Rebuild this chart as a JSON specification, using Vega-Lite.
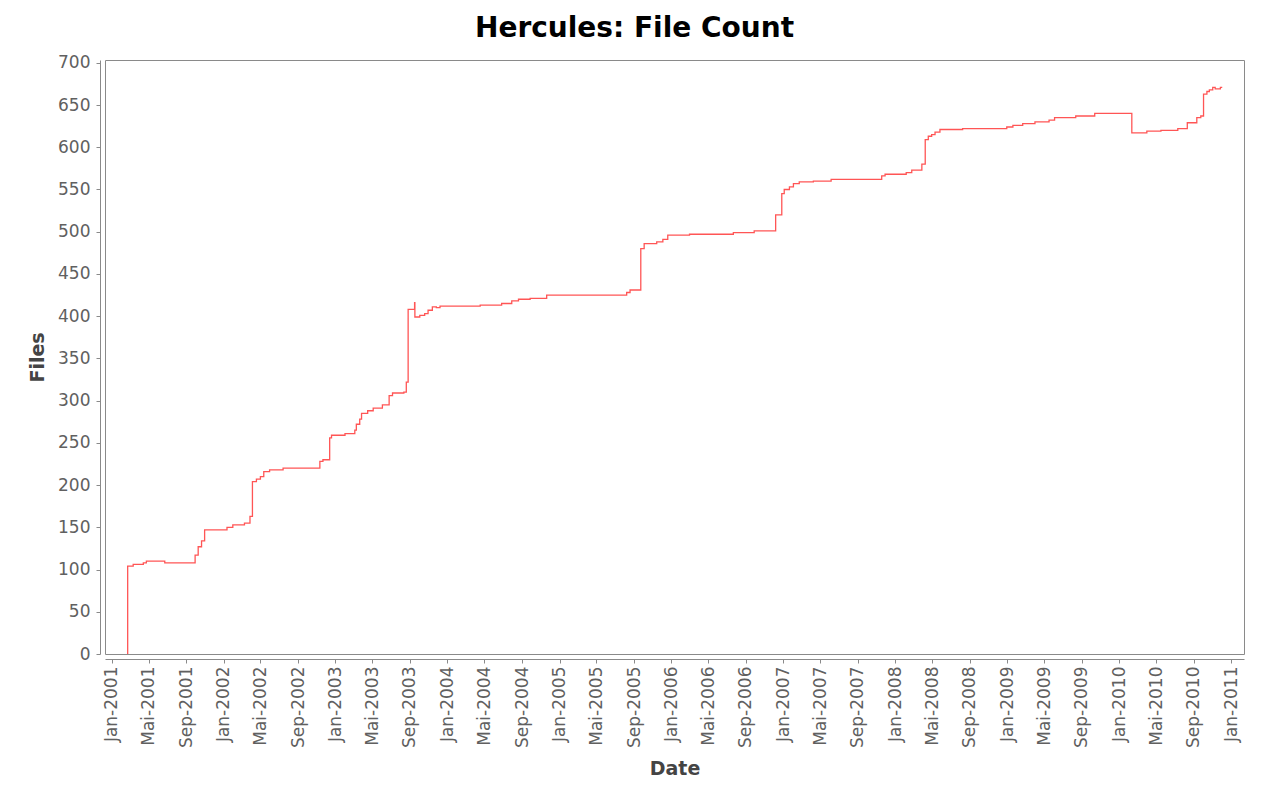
{
  "$schema": "https://vega.github.io/schema/vega-lite/v6.json",
  "autosize": {"type": "none"},
  "padding": {"left": 105, "top": 60, "right": 20, "bottom": 135},
  "width": 1139,
  "height": 594,
  "background": "white",
  "title": {
    "text": "Hercules: File Count",
    "font": "DejaVu Sans",
    "fontSize": 28,
    "fontWeight": "bold",
    "color": "#000000",
    "anchor": "middle",
    "dx": -40,
    "offset": 11
  },
  "config": {
    "view": {"stroke": "#8a8a8a", "strokeWidth": 1},
    "axis": {
      "labelFont": "DejaVu Sans",
      "labelFontSize": 17,
      "labelColor": "#606060",
      "titleFont": "DejaVu Sans",
      "titleFontSize": 19,
      "titleFontWeight": "bold",
      "titleColor": "#444444",
      "domainColor": "#8a8a8a",
      "tickColor": "#8a8a8a",
      "tickSize": 4,
      "grid": false
    }
  },
  "data": {
    "values": [
      {"date": "2001-02-21", "files": 0},
      {"date": "2001-02-22", "files": 104},
      {"date": "2001-03-12", "files": 106},
      {"date": "2001-04-14", "files": 108},
      {"date": "2001-04-24", "files": 110},
      {"date": "2001-06-23", "files": 108},
      {"date": "2001-09-30", "files": 117},
      {"date": "2001-10-10", "files": 127},
      {"date": "2001-10-21", "files": 134},
      {"date": "2001-10-31", "files": 147},
      {"date": "2002-01-12", "files": 150},
      {"date": "2002-01-31", "files": 153},
      {"date": "2002-03-10", "files": 155},
      {"date": "2002-03-28", "files": 163},
      {"date": "2002-04-05", "files": 204},
      {"date": "2002-04-18", "files": 207},
      {"date": "2002-05-01", "files": 210},
      {"date": "2002-05-12", "files": 216},
      {"date": "2002-05-31", "files": 218},
      {"date": "2002-07-14", "files": 220},
      {"date": "2002-11-11", "files": 228},
      {"date": "2002-11-21", "files": 230},
      {"date": "2002-12-13", "files": 256},
      {"date": "2002-12-19", "files": 259},
      {"date": "2003-02-01", "files": 261},
      {"date": "2003-03-05", "files": 265},
      {"date": "2003-03-10", "files": 272},
      {"date": "2003-03-21", "files": 278},
      {"date": "2003-03-27", "files": 285},
      {"date": "2003-04-16", "files": 288},
      {"date": "2003-05-04", "files": 291},
      {"date": "2003-06-03", "files": 295},
      {"date": "2003-06-25", "files": 306},
      {"date": "2003-07-06", "files": 309},
      {"date": "2003-08-12", "files": 310},
      {"date": "2003-08-20", "files": 322},
      {"date": "2003-08-26", "files": 408},
      {"date": "2003-09-16", "files": 416},
      {"date": "2003-09-17", "files": 399},
      {"date": "2003-10-03", "files": 401},
      {"date": "2003-10-19", "files": 403},
      {"date": "2003-10-30", "files": 407},
      {"date": "2003-11-13", "files": 411},
      {"date": "2003-11-26", "files": 410},
      {"date": "2003-12-08", "files": 412},
      {"date": "2004-04-17", "files": 413},
      {"date": "2004-06-26", "files": 415},
      {"date": "2004-07-29", "files": 418},
      {"date": "2004-08-20", "files": 420},
      {"date": "2004-09-27", "files": 421},
      {"date": "2004-11-20", "files": 425},
      {"date": "2005-08-08", "files": 428},
      {"date": "2005-08-19", "files": 431},
      {"date": "2005-09-23", "files": 480},
      {"date": "2005-10-04", "files": 486},
      {"date": "2005-11-14", "files": 488},
      {"date": "2005-12-04", "files": 491},
      {"date": "2005-12-20", "files": 496},
      {"date": "2006-03-01", "files": 497},
      {"date": "2006-07-22", "files": 499},
      {"date": "2006-09-28", "files": 501},
      {"date": "2006-12-07", "files": 520},
      {"date": "2006-12-27", "files": 545},
      {"date": "2007-01-04", "files": 550},
      {"date": "2007-01-21", "files": 553},
      {"date": "2007-02-03", "files": 557},
      {"date": "2007-02-22", "files": 559},
      {"date": "2007-04-09", "files": 560},
      {"date": "2007-06-06", "files": 562},
      {"date": "2007-11-18", "files": 566},
      {"date": "2007-11-29", "files": 568},
      {"date": "2008-02-06", "files": 570},
      {"date": "2008-02-24", "files": 573},
      {"date": "2008-03-28", "files": 580},
      {"date": "2008-04-08", "files": 609},
      {"date": "2008-04-18", "files": 613},
      {"date": "2008-04-29", "files": 615},
      {"date": "2008-05-10", "files": 618},
      {"date": "2008-05-26", "files": 621},
      {"date": "2008-08-08", "files": 622},
      {"date": "2008-12-30", "files": 624},
      {"date": "2009-01-19", "files": 626},
      {"date": "2009-02-20", "files": 628},
      {"date": "2009-04-01", "files": 630},
      {"date": "2009-05-17", "files": 632},
      {"date": "2009-06-04", "files": 635},
      {"date": "2009-08-12", "files": 637},
      {"date": "2009-10-13", "files": 640},
      {"date": "2010-02-11", "files": 617},
      {"date": "2010-04-01", "files": 619},
      {"date": "2010-05-17", "files": 620},
      {"date": "2010-07-11", "files": 622},
      {"date": "2010-08-11", "files": 629},
      {"date": "2010-09-11", "files": 635},
      {"date": "2010-09-24", "files": 637},
      {"date": "2010-10-03", "files": 663},
      {"date": "2010-10-14", "files": 666},
      {"date": "2010-10-22", "files": 668},
      {"date": "2010-11-02", "files": 671},
      {"date": "2010-11-10", "files": 669},
      {"date": "2010-11-27", "files": 671},
      {"date": "2010-12-03", "files": 671}
    ]
  },
  "mark": {"type": "line", "interpolate": "step-after", "color": "#ff5555", "strokeWidth": 1.3, "clip": true},
  "encoding": {
    "x": {
      "field": "date",
      "type": "temporal",
      "title": "Date",
      "scale": {
        "type": "utc",
        "domain": [
          {"year": 2000, "month": 12, "date": 10, "utc": true},
          {"year": 2011, "month": 2, "date": 12, "utc": true}
        ]
      },
      "axis": {
        "offset": 5,
        "labelAngle": -90,
        "labelAlign": "right",
        "labelBaseline": "middle",
        "labelPadding": 3,
        "titlePadding": 12,
        "labelOverlap": false,
        "values": [
          {"year": 2001, "month": 1, "date": 1, "utc": true},
          {"year": 2001, "month": 5, "date": 1, "utc": true},
          {"year": 2001, "month": 9, "date": 1, "utc": true},
          {"year": 2002, "month": 1, "date": 1, "utc": true},
          {"year": 2002, "month": 5, "date": 1, "utc": true},
          {"year": 2002, "month": 9, "date": 1, "utc": true},
          {"year": 2003, "month": 1, "date": 1, "utc": true},
          {"year": 2003, "month": 5, "date": 1, "utc": true},
          {"year": 2003, "month": 9, "date": 1, "utc": true},
          {"year": 2004, "month": 1, "date": 1, "utc": true},
          {"year": 2004, "month": 5, "date": 1, "utc": true},
          {"year": 2004, "month": 9, "date": 1, "utc": true},
          {"year": 2005, "month": 1, "date": 1, "utc": true},
          {"year": 2005, "month": 5, "date": 1, "utc": true},
          {"year": 2005, "month": 9, "date": 1, "utc": true},
          {"year": 2006, "month": 1, "date": 1, "utc": true},
          {"year": 2006, "month": 5, "date": 1, "utc": true},
          {"year": 2006, "month": 9, "date": 1, "utc": true},
          {"year": 2007, "month": 1, "date": 1, "utc": true},
          {"year": 2007, "month": 5, "date": 1, "utc": true},
          {"year": 2007, "month": 9, "date": 1, "utc": true},
          {"year": 2008, "month": 1, "date": 1, "utc": true},
          {"year": 2008, "month": 5, "date": 1, "utc": true},
          {"year": 2008, "month": 9, "date": 1, "utc": true},
          {"year": 2009, "month": 1, "date": 1, "utc": true},
          {"year": 2009, "month": 5, "date": 1, "utc": true},
          {"year": 2009, "month": 9, "date": 1, "utc": true},
          {"year": 2010, "month": 1, "date": 1, "utc": true},
          {"year": 2010, "month": 5, "date": 1, "utc": true},
          {"year": 2010, "month": 9, "date": 1, "utc": true},
          {"year": 2011, "month": 1, "date": 1, "utc": true}
        ],
        "labelExpr": "utcFormat(datum.value, '%m') == '05' ? 'Mai-' + utcFormat(datum.value, '%Y') : utcFormat(datum.value, '%b-%Y')"
      }
    },
    "y": {
      "field": "files",
      "type": "quantitative",
      "title": "Files",
      "scale": {"domain": [0, 703.3], "nice": false, "zero": true},
      "axis": {
        "offset": 5,
        "values": [0, 50, 100, 150, 200, 250, 300, 350, 400, 450, 500, 550, 600, 650, 700],
        "labelPadding": 6,
        "titlePadding": 10
      }
    }
  }
}
